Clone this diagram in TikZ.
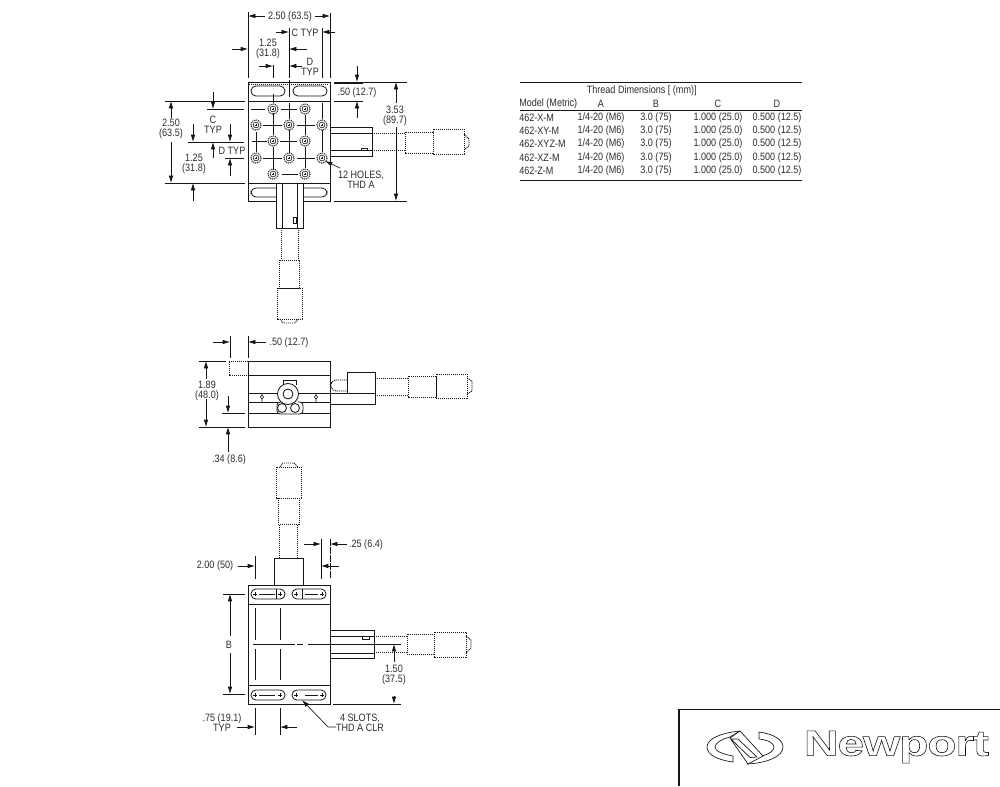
\documentclass[tikz,border=0pt]{standalone}
\usepackage{fontspec}
\setmainfont[FakeStretch=0.85]{Liberation Sans}
\newfontfamily\npfont[FakeStretch=1.33,LetterSpace=-3,BoldFont={Liberation Sans Bold}]{Liberation Sans}
\usetikzlibrary{arrows.meta}
\definecolor{ink}{HTML}{161616}
\definecolor{lab}{HTML}{2C2C2C}
\tikzset{
  main/.style={draw=ink,line width=0.62pt},
  thin/.style={draw=ink,line width=0.45pt},
  dot/.style={draw=ink,line width=0.62pt,dash pattern=on 0.9pt off 0.6pt},
  center/.style={draw=ink,line width=0.5pt},
  arr/.style={draw=ink,line width=0.5pt,-{Latex[length=5.5pt,width=3.4pt]}},
  lbl/.style={text=lab,font=\fontsize{8}{7.6}\selectfont,inner sep=0pt,align=center},
  tcell/.style={text=lab,font=\fontsize{8}{8}\selectfont,inner sep=0pt},
  rule/.style={draw=ink,line width=0.6pt},
  slot/.style={draw=ink,line width=0.62pt,rounded corners=3.6pt},
  logo/.style={draw=ink,line width=0.5pt,fill=white,line join=round}
}
\newcommand{\hole}[2]{%
  \draw[dot,line width=0.7pt] (#1,#2) circle (5.2);
  \draw[thin] (#1,#2) circle (2.9);
  \draw[thin] (#1-1.4,#2)--(#1+1.4,#2) (#1,#2-1.4)--(#1,#2+1.4);}
\newcommand{\plusmark}[2]{\draw[thin] (#1-1.6,#2)--(#1+1.6,#2) (#1,#2-1.6)--(#1,#2+1.6);}
\begin{document}
\begin{tikzpicture}[x=0.75pt,y=-0.75pt]
\useasboundingbox (0,0) rectangle (1000,786);
\fill[white] (0,0) rectangle (1000,786);
%% TOP VIEW
\draw[main] (248,82) rectangle (330,201);
\draw[main] (248,101)--(330,101) (248,183)--(330,183);
\draw[dot] (249,84)--(329,84);
\draw[slot] (251,86) rectangle (285,96);
\draw[slot] (293,86) rectangle (327,96);
\draw[slot] (277,188) -- (251,188) -- (251,197) -- (277,197);
\draw[slot] (303,188) -- (327,188) -- (327,197) -- (303,197);
% centre lines
\draw[center] (251,109)--(265,109) (281,109)--(297,109)
  (263,125)--(282,125) (297,125)--(315,125)
  (252,141)--(267,141) (280,141)--(297,141)
  (263,158)--(282,158) (297,158)--(315,158)
  (282,174)--(298,174);
\draw[center] (273,94)--(273,103) (273,113)--(273,135) (273,147)--(273,170)
  (305,115)--(305,135) (305,147)--(305,168)
  (289,80)--(289,97) (289,103)--(289,119) (289,130)--(289,153)
  (256,132)--(256,152)
  (322,103)--(322,119) (322,130)--(322,152);
\foreach \x/\y in {273/109,305/109,256/125,289/125,322/125,273/141,305/141,256/158,289/158,322/158,273/174,305/174}{\hole{\x}{\y}}
% right actuator
\draw[main] (330,127) rectangle (372,156);
\draw[main] (330,133)--(372,133) (330,150)--(372,150);
\draw[thin] (361,148) rectangle (367,150);
\draw[dot] (372,133)--(405,133) (372,150)--(405,150);
\draw[dot] (405,132) rectangle (433,153);
\draw[dot] (433,129) rectangle (464,154);
\draw[dot] (464,134)--(469,139)--(469,146)--(464,150);
% front actuator
\draw[main,fill=white] (276,183) rectangle (303,228);
\draw[main] (282,183)--(282,228) (297,183)--(297,228);
\draw[thin] (293,217) rectangle (296,223);
\draw[dot] (281,228)--(281,260) (298,228)--(298,260);
\draw[dot] (279,260) rectangle (299,288);
\draw[dot] (277,288) rectangle (302,319);
\draw[dot] (280,319)--(283,323)--(295,323)--(298,319);
% top dims
\draw[thin] (248,12)--(248,78) (330,13)--(330,78) (289,28)--(289,78) (322,28)--(322,78) (273,65)--(273,78);
\draw[arr] (265,16)--(248,16); \draw[arr] (315,16)--(330,16);
\node[lbl] (d250a) at (290,16.5) {2.50 (63.5)};
\draw[arr] (276,32)--(289,32); \draw[arr] (335,32)--(322,32);
\node[lbl] (ctypa) at (305,32.5) {C TYP};
\draw[arr] (232,49)--(248,49); \draw[arr] (307,49)--(289,49);
\node[lbl] (d125a) at (268,48.5) {1.25\\(31.8)};
\draw[arr] (259,66)--(273,66); \draw[arr] (302,66)--(289,66);
\node[lbl] (dtypa) at (310,67) {D\\TYP};
% right dims
\draw[thin] (334,82)--(407,82) (334,83.5)--(363,83.5) (334,101)--(363,101) (334,201)--(407,201);
\draw[arr] (357,66)--(357,82); \draw[arr] (357,118)--(357,101);
\node[lbl] (d50a) at (357,93) {.50 (12.7)};
\draw[arr] (396,103)--(396,82); \draw[arr] (396,127)--(396,201);
\node[lbl] (d353) at (395,116) {3.53\\(89.7)};
\draw[arr] (340,168)--(325,161);
\node[lbl] (holes) at (361,179.5) {12 HOLES,\\THD A};
% left dims
\draw[thin] (165,101)--(245,101) (165,183)--(245,183) (207,109)--(244,109) (188,142)--(244,142) (225,158)--(244,158);
\draw[arr] (171,118)--(171,101); \draw[arr] (171,142)--(171,183);
\node[lbl] (d250b) at (171,129) {2.50\\(63.5)};
\draw[arr] (213,92)--(213,109); \draw[arr] (213,158)--(213,142);
\node[lbl] (ctypb) at (213,125) {C\\TYP};
\draw[arr] (193,124)--(193,142); \draw[arr] (230,124)--(230,142);
\draw[arr] (230,176)--(230,158);
\node[lbl] (dtypb) at (232,151) {D TYP};
\draw[arr] (193,201)--(193,183);
\node[lbl] (d125b) at (194,164) {1.25\\(31.8)};
%% SIDE VIEW
\draw[main] (248,361) rectangle (330,427);
\draw[main] (248,375)--(330,375) (248,393)--(278,393) (298,393)--(330,393) (248,402)--(278,402) (298,402)--(330,402) (248,413)--(330,413);
\draw[dot] (248,361)--(229,361)--(229,375)--(248,375);
\draw[thin] (283,385)--(283,380)--(296,380)--(296,385);
\draw[main,rounded corners=2.5pt,fill=white] (280,402)--(277,402)--(277,414)--(303,414)--(303,402)--(298,402);
\draw[main] (282,408) circle (4.5) (295,408) circle (4.5);
\draw[main,fill=white] (288,394) circle (10.5);
\draw[main] (288,394) circle (5);
\foreach \x in {262,316}{\draw[thin] (\x,395)--(\x+1.6,397)--(\x,399)--(\x-1.6,397)--cycle (\x,393)--(\x,395) (\x,399)--(\x,402);}
\draw[main] (347,393)--(347,372)--(375,372)--(375,404)--(330,404) (330,393)--(375,393);
\draw[dot,rounded corners=2.5pt] (347,380)--(333,380)--(330,385)--(333,391)--(347,391);
\draw[dot] (375,378)--(408,378) (375,395)--(408,395);
\draw[dot] (408,376) rectangle (436,397);
\draw[dot] (436,374) rectangle (467,398);
\draw[dot] (467,378)--(472,381)--(472,391)--(467,394);
\draw[thin] (230,336)--(230,358) (248,336)--(248,358);
\draw[arr] (213,342)--(230,342); \draw[arr] (266,342)--(248,342);
\node[lbl] (d50b) at (289,342.5) {.50 (12.7)};
\draw[thin] (199,361)--(226,361) (199,427)--(245,427) (222,413)--(245,413);
\draw[arr] (206,379)--(206,361); \draw[arr] (206,399)--(206,427);
\node[lbl] (d189) at (207,391) {1.89\\(48.0)};
\draw[arr] (228,396)--(228,413); \draw[arr] (228,452)--(228,427);
\node[lbl] (d34) at (229,460) {.34 (8.6)};
%% BOTTOM VIEW
\draw[main] (248,585) rectangle (330,704);
\draw[main] (248,604)--(330,604) (248,685)--(330,685);
\draw[main] (274,585)--(274,558)--(303,558)--(303,585);
\foreach \y in {589,690}{
  \draw[slot] (251,\y) rectangle (285,\y+10);
  \draw[slot] (292,\y) rectangle (326,\y+10);
  \foreach \x in {255,280,296,322}{\plusmark{\x}{\y+5}}
  \draw[thin] (259,\y+5)--(275,\y+5) (305,\y+5)--(318,\y+5);
}
\draw[thin] (276,589)--(276,599) (302,589)--(302,599);
\draw[center] (255,608)--(255,640) (255,649)--(255,680) (280,608)--(280,640) (280,649)--(280,680);
\draw[center] (253,644)--(295,644) (297,644)--(303,644) (308,644)--(401,644);
\draw[main] (330,630) rectangle (374,658);
\draw[main] (330,636)--(374,636) (330,653)--(374,653);
\draw[thin] (362,636) rectangle (369,639);
\draw[dot] (374,636)--(407,636) (374,652)--(407,652);
\draw[dot] (407,634) rectangle (434,654);
\draw[dot] (434,632) rectangle (466,657);
\draw[dot] (466,636)--(471,640)--(471,648)--(466,653);
\draw[dot] (279,558)--(279,525) (297,558)--(297,525);
\draw[dot] (278,498) rectangle (299,524);
\draw[dot] (276,467) rectangle (301,498);
\draw[dot] (280,467)--(283,463)--(294,463)--(298,467);
\draw[thin] (321,539)--(321,579) (255,556)--(255,579);
\draw[thin,dash pattern=on 5pt off 1pt] (330,539)--(330,579);
\draw[arr] (304,544)--(321,544); \draw[arr] (347,544)--(330,544);
\node[lbl] (d25) at (366,544.5) {.25 (6.4)};
\draw[arr] (238,566)--(255,566); \draw[arr] (339,566)--(321,566);
\node[lbl] (d200) at (215,566) {2.00 (50)};
\draw[thin] (223,594)--(245,594) (223,694)--(245,694);
\draw[arr] (230,636)--(230,594); \draw[arr] (230,653)--(230,694);
\node[lbl] (dB) at (229,644.5) {B};
\draw[thin] (333,704)--(401,704);
\draw[arr] (394,662)--(394,644); \draw[arr] (394,696)--(394,704);
\node[lbl] (d150) at (394,675) {1.50\\(37.5)};
\draw[thin] (255,708)--(255,735) (280,708)--(280,735);
\draw[arr] (237,727)--(255,727); \draw[arr] (297,727)--(280,727);
\node[lbl] (d75) at (222,722.5) {.75 (19.1)\\TYP};
\draw[arr] (336,727)--(328,727)--(302,700);
\node[lbl] (slots) at (360,722.5) {4 SLOTS,\\THD A CLR};
%% TABLE
\draw[rule] (520,82)--(802,82) (520,110)--(802,110) (520,180)--(802,180);
\node[tcell] (thead) at (641.7,91) {Thread Dimensions [ (mm)]};
\node[tcell,anchor=west] (hm) at (519,104) {Model (Metric)};
\node[tcell] (ha) at (601,104) {A};
\node[tcell] (hb) at (656,104) {B};
\node[tcell] (hc) at (718,104) {C};
\node[tcell] (hd) at (777,104) {D};
\foreach \n/\y/\m in {1/117.5/462-X-M,2/130.5/462-XY-M,3/144/462-XYZ-M,4/157.5/462-XZ-M,5/170.5/462-Z-M}{
  \node[tcell,anchor=west] (m\n) at (519,\y) {\m};
  \node[tcell] (a\n) at (601,\y) {1/4-20 (M6)};
  \node[tcell] (b\n) at (656,\y) {3.0 (75)};
  \node[tcell] (c\n) at (718,\y) {1.000 (25.0)};
  \node[tcell] (e\n) at (777,\y) {0.500 (12.5)};
}
%% LOGO BOX
\draw[draw=ink,line width=0.8pt] (679,786)--(679,709.5)--(1000,709.5);
\draw[logo] (740,731) .. controls (720,733) and (707,739) .. (707,747) .. controls (707,755) and (718,760) .. (733,762) -- (733,756) .. controls (722,754) and (715,751) .. (715,747) .. controls (715,743) and (722,739) .. (730,737) -- cycle;
\draw[logo] (759,732) .. controls (774,734) and (783,740) .. (783,747) .. controls (783,756) and (768,763) .. (747,764) -- (762,756) .. controls (769,754) and (774,751) .. (774,747) .. controls (774,743) and (768,740) .. (759,739) -- cycle;
\draw[logo] (730,738)--(740,731)--(763,756)--(748,764)--cycle;
\draw[logo] (731,739)--(738,739)--(757,757)--(750,757.5)--cycle;
\node[inner sep=0pt,text=ink,font=\npfont\bfseries\fontsize{27}{27}\selectfont] (newport) at (896.5,747) {\special{pdf:code q 1 Tr 0.45 w}Newport\special{pdf:code 0 Tr Q}};
\end{tikzpicture}
\end{document}
